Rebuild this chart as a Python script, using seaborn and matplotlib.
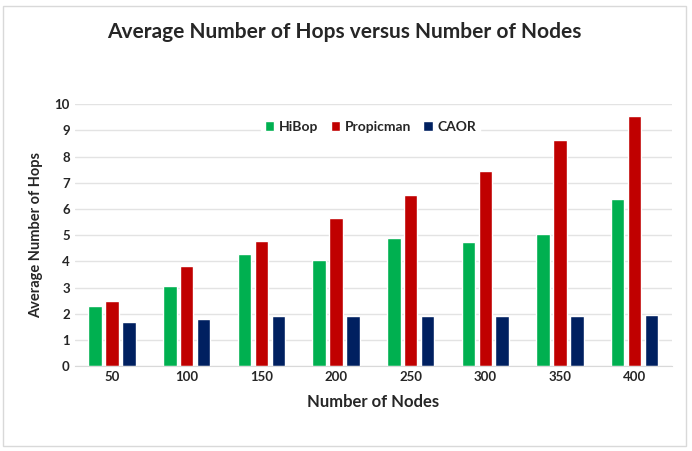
import pandas as pd
import matplotlib.pyplot as plt
import seaborn as sns
from matplotlib.patches import Rectangle

nodes = [50, 100, 150, 200, 250, 300, 350, 400]
hibop = [2.3, 3.05, 4.27, 4.07, 4.88, 4.73, 5.06, 6.37]
propicman = [2.5, 3.84, 4.78, 5.67, 6.55, 7.45, 8.65, 9.54]
caor = [1.67, 1.8, 1.9, 1.9, 1.9, 1.9, 1.9, 1.95]

series = ['HiBop', 'Propicman', 'CAOR']
colors = ['#00B050', '#C00000', '#002060']

df = pd.DataFrame({
    'Nodes': nodes * 3,
    'Hops': hibop + propicman + caor,
    'Protocol': [s for s in series for _ in nodes],
})

sns.set_style('white')
plt.rcParams['font.family'] = ['Lato', 'DejaVu Sans']

fig = plt.figure(figsize=(6.92, 4.51), dpi=100)
fig.patches.append(Rectangle((0.004, 0.012), 0.988, 0.975, transform=fig.transFigure,
                             fill=False, edgecolor='#d9d9d9', linewidth=1.0))
ax = fig.add_axes([0.108, 0.188, 0.863, 0.581])

sns.barplot(data=df, x='Nodes', y='Hops', hue='Protocol', hue_order=series,
            palette=colors, width=0.68, gap=0.2, ax=ax, saturation=1)

ax.set_ylim(0, 10)
ax.set_yticks(range(0, 11))
ax.yaxis.grid(True, color='#e3e3e3', linewidth=1.0)
ax.set_axisbelow(True)
for side in ['top', 'left', 'right']:
    ax.spines[side].set_visible(False)
ax.spines['bottom'].set_color('#d9d9d9')
ax.tick_params(axis='both', length=0, labelsize=9.5)
for lbl in ax.get_xticklabels() + ax.get_yticklabels():
    lbl.set_fontweight('bold')
ax.set_xlabel('Number of Nodes', fontsize=12, fontweight='bold', labelpad=8)
ax.set_ylabel('Average Number of Hops', fontsize=10.5, fontweight='bold', labelpad=8)

leg = ax.legend(loc='upper center', bbox_to_anchor=(0.495, 0.98), ncol=3, frameon=True,
                framealpha=1, edgecolor='white', fontsize=10, handlelength=0.7,
                handleheight=0.7, columnspacing=0.9, handletextpad=0.3, borderpad=0.3)
for t in leg.get_texts():
    t.set_fontweight('bold')

fig.text(0.497, 0.928, 'Average Number of Hops versus Number of Nodes', ha='center',
         va='center', fontsize=15, fontweight='bold')

fig.savefig('out.png', dpi=100)
